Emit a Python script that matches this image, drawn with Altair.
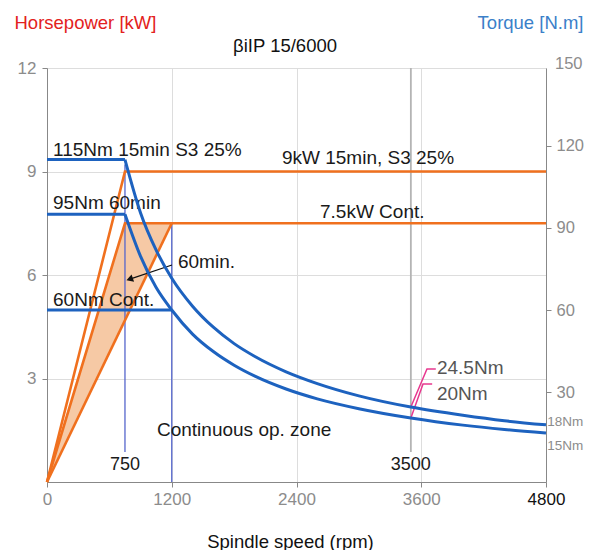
import altair as alt
import pandas as pd

FONT = "Liberation Sans"
ORANGE = "#f0701e"
BLUE = "#1d62bf"
VBLUE = "#5566cc"
GRAY = "#8c8c8c"

# ---- chart title ----
title_txt = ["βiIP 15/6000"]
title_rpm = [2290]
title_kw = [12.64]

# ---- axis values ----
rpm_ticks = [0, 1200, 2400, 3600, 4800]
kw_ticks = [3, 6, 9, 12]
nm_ticks = [30, 60, 90, 120]
nm_top_label = ["150"]
nm_top_value = [150]

# ---- orange power lines (rpm, kW) ----
p15_rpm = [0, 750, 4800]
p15_kw = [0, 9, 9]
p60_rpm = [0, 750, 4800]
p60_kw = [0, 7.5, 7.5]
pcont_rpm = [0, 1200]
pcont_kw = [0, 7.5]

# ---- shaded 60 min zone ----
zone_rpm = [0, 750, 1200]
zone_low = [0, 4.69, 7.5]
zone_high = [0, 7.5, 7.5]

# ---- blue torque lines (rpm, N.m) ----
flat15_rpm = [0, 750]
flat15_nm = [115, 115]
flat60_rpm = [0, 750]
flat60_nm = [95, 95]
cont_rpm = [0, 1200]
cont_nm = [60, 60]
curve_rpm = [750, 900, 1050, 1200, 1400, 1600, 1800, 2000, 2300, 2600, 3000, 3500, 4000, 4400, 4800]
curve15_nm = [115, 95.5, 81.9, 71.6, 61.4, 53.7, 47.7, 43.0, 37.4, 33.1, 28.6, 24.5, 21.5, 19.5, 18.0]
curve60_nm = [95, 79.6, 68.2, 60.0, 51.2, 44.8, 39.8, 35.8, 31.1, 27.5, 23.9, 20.5, 17.9, 16.3, 15.0]

# ---- vertical marker lines (rpm, kW top / bottom) ----
vline_rpm = [750, 1200, 3500]
vline_top = [9.2, 7.5, 12]
vline_bot = [0.87, 0, 0.87]
vline_col = [VBLUE, VBLUE, "#b4b4b4"]
vline_w = [1.3, 1.3, 1.8]

# ---- magenta leaders (rpm, N.m) ----
lead_a_rpm = [3500, 3655, 3740]
lead_a_nm = [24.5, 38.4, 38.4]
lead_b_rpm = [3500, 3617, 3705]
lead_b_nm = [20.5, 32.9, 32.9]

# ---- arrow (rpm, kW) ----
arrow_rpm = [1202, 790]
arrow_kw = [6.29, 5.87]

# ---- annotations ----
ltxt = ["115Nm 15min S3 25%", "9kW 15min, S3 25%", "95Nm 60min", "7.5kW Cont.", "60min.",
        "60Nm Cont.", "Continuous op. zone", "24.5Nm", "20Nm"]
ltxt_rpm = [58, 2260, 58, 2626, 1260, 58, 1058, 3751, 3751]
ltxt_kw = [9.62, 9.39, 8.09, 7.83, 6.38, 5.28, 1.51, 3.30, 2.55]
ltxt_col = ["#1a1a1a"] * 7 + ["#555555", "#555555"]
rtxt = ["18Nm", "15Nm"]
rtxt_rpm = [4812, 4812]
rtxt_kw = [1.74, 1.04]
ctxt = ["750", "3500"]
ctxt_rpm = [750, 3500]
ctxt_kw = [0.49, 0.49]

X = alt.X("rpm:Q", scale=alt.Scale(domain=[0, 4800], nice=False),
          axis=alt.Axis(values=rpm_ticks, format="d", title="Spindle speed (rpm)", labelFontSize=17,
                        labelColor=alt.condition(alt.datum.value == 4800, alt.value("#111111"), alt.value(GRAY)),
                        labelPadding=4, labelFlush=False, titleFontSize=18.5, titleFontWeight="normal",
                        titleColor="#111111", titleX=243, titleY=59, titleAlign="center",
                        titleBaseline="middle"))

kw_scale = alt.Scale(domain=[0, 12], nice=False)
Ykw = alt.Y("kw:Q", scale=kw_scale,
            axis=alt.Axis(values=kw_ticks, title="Horsepower [kW]", labelFontSize=17, labelColor=GRAY,
                          labelPadding=6, titleAngle=0, titleAlign="left", titleBaseline="middle",
                          titleX=-33, titleY=-46, titleColor="#e32120", titleFontSize=18.5,
                          titleFontWeight="normal"))

nm_scale = alt.Scale(domain=[-2.9, 148.5], nice=False, zero=False)
Ynm = alt.Y("nm:Q", scale=nm_scale,
            axis=alt.Axis(orient="right", values=nm_ticks, title="Torque [N.m]", labelFontSize=16.5,
                          labelColor=GRAY, labelPadding=5, titleAngle=0, titleAlign="right",
                          titleBaseline="middle", titleX=37, titleY=-46, titleColor="#3b80c9",
                          titleFontSize=18.5, titleFontWeight="normal"))


def df(**cols):
    return pd.DataFrame(cols)


zone = alt.Chart(df(rpm=zone_rpm, kw=zone_low, kw2=zone_high)).mark_area(
    color="#f5c6a0", opacity=0.95).encode(x=X, y=Ykw, y2="kw2:Q")

orange = []
for r, k in [(p15_rpm, p15_kw), (p60_rpm, p60_kw), (pcont_rpm, pcont_kw)]:
    orange.append(alt.Chart(df(rpm=r, kw=k)).mark_line(color=ORANGE, strokeWidth=2.6).encode(x=X, y=Ykw))

vlines = alt.Chart(df(rpm=vline_rpm, kw=vline_bot, kw2=vline_top, c=vline_col, w=vline_w)).mark_rule().encode(
    x=X, y=Ykw, y2="kw2:Q", color=alt.Color("c:N", scale=None),
    strokeWidth=alt.StrokeWidth("w:Q", scale=None))

arrow_line = alt.Chart(df(rpm=arrow_rpm, kw=arrow_kw)).mark_line(color="#111111", strokeWidth=1.3).encode(
    x=X, y=Ykw)
arrow_head = alt.Chart(df(rpm=[795], kw=[5.88])).mark_point(
    shape="triangle-up", filled=True, size=60, angle=251, color="#111111", opacity=1).encode(x=X, y=Ykw)

ltext = alt.Chart(df(rpm=ltxt_rpm, kw=ltxt_kw, t=ltxt, c=ltxt_col)).mark_text(
    align="left", baseline="middle", fontSize=19, font=FONT).encode(
    x=X, y=Ykw, text="t:N", color=alt.Color("c:N", scale=None))
rtext = alt.Chart(df(rpm=rtxt_rpm, kw=rtxt_kw, t=rtxt)).mark_text(
    align="left", baseline="middle", fontSize=13.5, font=FONT, color=GRAY).encode(
    x=X, y=Ykw, text="t:N")
ctext = alt.Chart(df(rpm=ctxt_rpm, kw=ctxt_kw, t=ctxt)).mark_text(
    align="center", baseline="middle", fontSize=18, font=FONT, color="#1a1a1a").encode(
    x=X, y=Ykw, text="t:N")
ttext = alt.Chart(df(rpm=title_rpm, kw=title_kw, t=title_txt)).mark_text(
    align="center", baseline="middle", fontSize=18.5, font=FONT, color="#111111").encode(
    x=X, y=Ykw, text="t:N")

kw_layer = alt.layer(zone, vlines, *orange, arrow_line, arrow_head, ltext, rtext, ctext, ttext)

blue = []
for r, n in [(flat15_rpm, flat15_nm), (flat60_rpm, flat60_nm), (cont_rpm, cont_nm)]:
    blue.append(alt.Chart(df(rpm=r, nm=n)).mark_line(color=BLUE, strokeWidth=3).encode(x=X, y=Ynm))
for n in [curve15_nm, curve60_nm]:
    blue.append(alt.Chart(df(rpm=curve_rpm, nm=n)).mark_line(
        color=BLUE, strokeWidth=3, interpolate="monotone").encode(x=X, y=Ynm))
leaders = []
for r, n in [(lead_a_rpm, lead_a_nm), (lead_b_rpm, lead_b_nm)]:
    leaders.append(alt.Chart(df(rpm=r, nm=n)).mark_line(color="#e8388f", strokeWidth=1.5).encode(
        x=X, y=Ynm))
top_lab = alt.Chart(df(rpm=[4800], nm=nm_top_value, t=nm_top_label)).mark_text(
    align="left", baseline="middle", dx=9, fontSize=16.5, font=FONT, color=GRAY).encode(
    x=X, y=Ynm, text="t:N")

nm_layer = alt.layer(*leaders, *blue, top_lab)

chart = alt.layer(kw_layer, nm_layer).resolve_scale(y="independent").properties(
    width=499, height=414,
    autosize=alt.AutoSizeParams(type="none"),
    padding={"left": 39, "top": 60, "right": 38, "bottom": 68},
).configure_view(fill="#efefef", stroke="#bdbdbd", strokeWidth=1.5).configure_axis(
    domain=False, ticks=False, tickSize=0, grid=False, labelFont=FONT, titleFont=FONT
).configure(background="white")

chart.save("out.html", embed_options={"renderer": "svg", "actions": False})
